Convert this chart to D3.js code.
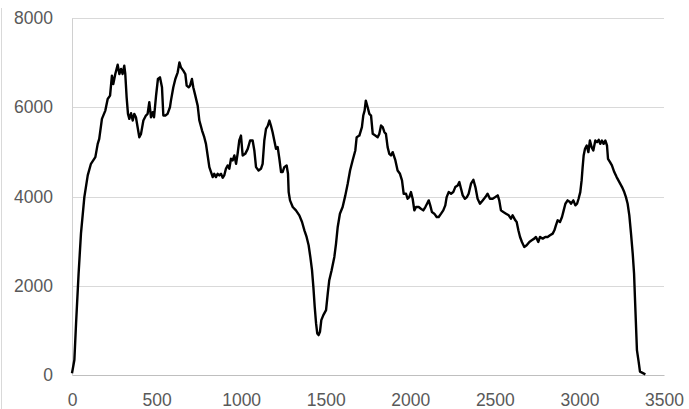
<!DOCTYPE html>
<html>
<head>
<meta charset="utf-8">
<script src="https://cdn.jsdelivr.net/npm/d3@7"></script>
<style>
  html, body { margin: 0; padding: 0; background: #fff; }
  #chart { width: 689px; height: 409px; }
</style>
</head>
<body>
<div id="chart"></div>
<script>
// x positions of the readings
const xValues = [
  0, 14, 24, 39, 53, 73, 93, 112, 138, 152, 161, 177, 197, 211, 225, 236, 244, 256, 270, 280,
  290, 299, 309, 315, 323, 331, 339, 349, 359, 368, 378, 388, 398, 408, 422, 437, 447, 457, 467, 477,
  485, 497, 508, 520, 532, 540, 552, 565, 579,
  585, 599, 611, 625, 635, 644, 658, 670, 678, 690, 698, 709, 717, 729, 743, 753, 769, 782, 792, 802,
  812, 822, 832, 841, 851, 861, 871, 881, 891, 900, 910, 920, 930, 940, 950, 960, 970, 979, 989, 999,
  1009, 1024, 1039, 1053, 1068, 1078, 1088, 1103, 1117, 1127, 1137, 1147, 1157, 1167, 1176, 1186, 1196,
  1206, 1216, 1226, 1236, 1245, 1255, 1269, 1277, 1281, 1289, 1305, 1324, 1344, 1360, 1374, 1387, 1399,
  1409, 1419, 1427, 1435, 1443, 1450, 1458, 1466, 1474, 1486, 1502, 1512, 1521, 1535, 1551, 1561, 1571,
  1584, 1600, 1616, 1630, 1644, 1659, 1675, 1683, 1699, 1714, 1722, 1730, 1737, 1748, 1758, 1768, 1778,
  1793, 1807, 1817, 1827, 1837, 1847, 1856, 1866, 1876, 1886, 1896, 1912, 1925, 1939, 1951, 1961, 1975,
  1984, 1994, 2004, 2014, 2024, 2034, 2050, 2063, 2077, 2089, 2099, 2109, 2118, 2128, 2142, 2156, 2168,
  2182, 2195, 2207, 2215, 2227, 2241, 2254, 2266, 2280, 2290, 2300, 2310, 2323, 2335, 2345, 2359, 2373,
  2385, 2398, 2412, 2428, 2444, 2457, 2471, 2487, 2503, 2517, 2526, 2536, 2550, 2566, 2582, 2595, 2605,
  2621, 2629, 2639, 2649, 2660, 2674, 2688, 2704, 2718, 2733, 2743, 2757, 2767, 2783, 2798, 2812, 2826,
  2842, 2852, 2861, 2871, 2885, 2897, 2907, 2917, 2930, 2944, 2950, 2964, 2976, 2986, 2995, 3005, 3013,
  3019, 3025, 3033, 3043, 3053, 3062, 3072, 3082, 3094, 3104, 3114, 3123, 3133, 3143, 3153, 3163, 3169,
  3181, 3192, 3206, 3220, 3236, 3252, 3265, 3275, 3285, 3295, 3305, 3315, 3323, 3328, 3334, 3340, 3350,
  3358, 3370, 3390
];

// series values
const yValues = [
  40, 335, 1155, 2273, 3168, 3987, 4472, 4733, 4882, 5180, 5292, 5739, 5925, 6186, 6261, 6708, 6522, 6745, 6954, 6745,
  6857, 6745, 6932, 6745, 6223, 5851, 5739, 5866, 5702, 5851, 5776, 5553, 5329, 5404, 5702, 5814, 5851, 6112, 5776, 5888,
  5776, 6261, 6633, 6671, 6447, 5814, 5814, 5851, 6000,
  6149, 6447, 6633, 6783, 7006, 6894, 6820, 6745, 6484, 6447, 6484, 6633, 6447, 6261, 6037, 5702, 5478, 5329, 5180, 4919,
  4658, 4547, 4435, 4509, 4435, 4509, 4472, 4509, 4420, 4472, 4621, 4696, 4621, 4845, 4807, 4919, 4733, 4956, 5255, 5366,
  4919, 4956, 5068, 5255, 5255, 5031, 4658, 4584, 4621, 4733, 5255, 5516, 5580, 5702, 5590, 5441, 5255,
  5068, 5106, 4845, 4547, 4547, 4658, 4696, 4509, 4099, 3913, 3764, 3689, 3578, 3429, 3242, 3093, 2907,
  2646, 2348, 1975, 1528, 1155, 932, 894, 969, 1230, 1342, 1453, 1826, 2124, 2348, 2646, 2944, 3317,
  3615, 3764, 4025, 4286, 4584, 4807, 5031, 5329, 5366, 5553, 5814, 5925, 6149, 6000, 5851, 5814, 5404,
  5366, 5329, 5404, 5590, 5553, 5441, 5404, 5106, 4956, 4919, 4994, 4807, 4584, 4509, 4360, 4062, 4062,
  3950, 3987, 4099, 3950, 3689, 3764, 3764, 3727, 3689, 3764, 3838, 3913, 3801, 3652, 3615, 3540, 3540,
  3615, 3689, 3801, 3987, 4099, 4062, 4099, 4211, 4248, 4323, 4174, 4025, 3950, 3987, 4062, 4286, 4375,
  4211, 3950, 3838, 3913, 3987, 4062, 3950, 3950, 3987, 4025, 3913, 3689, 3652, 3615, 3578, 3503, 3578,
  3466, 3429, 3242, 3093, 2981, 2870, 2907, 2981, 3019, 3056, 3093, 2981, 3093, 3056, 3093, 3093, 3130,
  3168, 3242, 3354, 3466, 3429, 3540, 3689, 3838, 3913, 3876, 3838, 3913, 3801, 3838, 3950, 4099, 4360,
  4658, 4919, 5068, 5143, 4994, 5255, 5106, 5031, 5255, 5217, 5270, 5180, 5255, 5180, 5255, 5143, 4845,
  4770, 4696, 4547, 4435, 4323, 4211, 4099, 3987, 3838, 3578, 3168, 2721, 2273, 1752, 1155, 559, 298,
  75, 52, 15
];

const xTicks = [0, 500, 1000, 1500, 2000, 2500, 3000, 3500];
const yTicks = [0, 2000, 4000, 6000, 8000];

const data = xValues.map((x, i) => [x, yValues[i]]);

// size of the chart
const W = 689, H = 409;
const margin = {top: 18, right: 25, bottom: 34, left: 72};
const width = W - margin.left - margin.right,
    height = H - margin.top - margin.bottom;

const svg = d3.select("#chart")
    .append("svg")
    .attr("width", W)
    .attr("height", H)
    .style("font-family", "'Liberation Sans', Arial, sans-serif");

// faint frame line on the left edge
svg.append("line")
    .attr("x1", 1.5).attr("x2", 1.5)
    .attr("y1", 8).attr("y2", H)
    .attr("stroke", "#d9d9d9")
    .attr("stroke-width", 1);

const g = svg.append("g")
    .attr("transform", `translate(${margin.left}, ${margin.top})`);

const xScale = d3.scaleLinear()
    .domain([0, 3500])
    .range([0, width]);

const yScale = d3.scaleLinear()
    .domain([0, 8000])
    .range([height, 0]);

// horizontal grid lines
g.append("g")
    .selectAll("line")
    .data(yTicks.filter(d => d > 0))
    .enter()
    .append("line")
        .attr("x1", 0)
        .attr("x2", width)
        .attr("y1", d => Math.round(yScale(d)) + 0.5)
        .attr("y2", d => Math.round(yScale(d)) + 0.5)
        .attr("stroke", "#d9d9d9")
        .attr("stroke-width", 1);

// y axis
const yAxis = g.append("g")
    .call(d3.axisLeft(yScale).tickValues(yTicks).tickSize(0).tickPadding(19)
        .tickFormat(d3.format("d")));
yAxis.select(".domain").attr("stroke", "#d0d0d0");
yAxis.selectAll(".tick text")
    .attr("fill", "#595959")
    .style("font-size", "17.5px");

// x axis
const xAxis = g.append("g")
    .attr("transform", `translate(0, ${height})`)
    .call(d3.axisBottom(xScale).tickValues(xTicks).tickSize(0).tickPadding(19)
        .tickFormat(d3.format("d")));
xAxis.select(".domain").attr("stroke", "#bfbfbf");
xAxis.selectAll(".tick text")
    .attr("fill", "#595959")
    .style("font-size", "17.5px");

// the line itself
const line = d3.line()
    .x(d => xScale(d[0]))
    .y(d => yScale(d[1]));

g.append("path")
    .datum(data)
    .attr("d", line)
    .attr("fill", "none")
    .attr("stroke", "#000")
    .attr("stroke-width", 2.4)
    .attr("stroke-linejoin", "round");
</script>
</body>
</html>
